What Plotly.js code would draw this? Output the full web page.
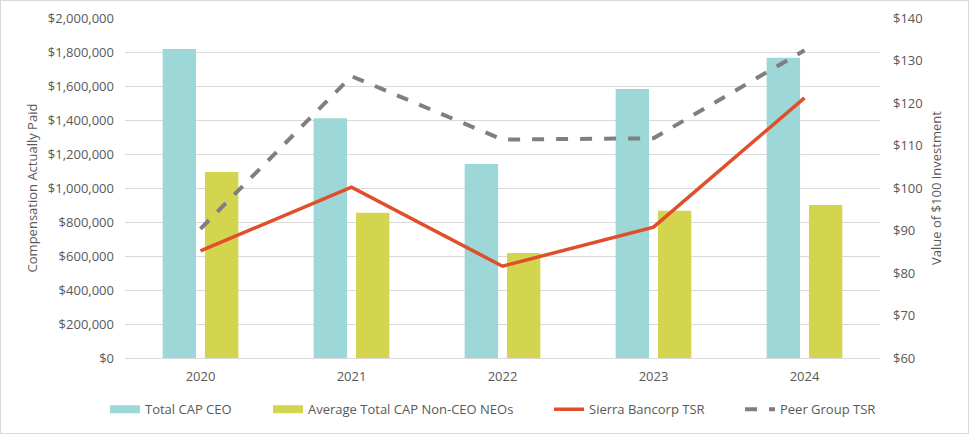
<!DOCTYPE html>
<html>
<head>
<meta charset="utf-8">
<script src="https://cdn.plot.ly/plotly-3.0.1.min.js"></script>
<style>
  html, body { margin: 0; padding: 0; background: #fff; }
  #chart { width: 967px; height: 432px; border: 1px solid #d9d9d9; }
</style>
</head>
<body>
<div id="chart"></div>
<script>
const years = ['2020', '2021', '2022', '2023', '2024'];
const capCEO = [1818000, 1410000, 1141000, 1583000, 1766000];
const capNEO = [1094000, 854000, 618000, 866000, 900000];
const sierraTSR = [85.2, 100.2, 81.6, 90.8, 121.2];
const peerTSR = [90.4, 126.3, 111.4, 111.7, 132.4];
const leftTicks = [0, 200000, 400000, 600000, 800000, 1000000, 1200000, 1400000, 1600000, 1800000, 2000000];
const leftTickText = ['$0', '$200,000', '$400,000', '$600,000', '$800,000', '$1,000,000', '$1,200,000', '$1,400,000', '$1,600,000', '$1,800,000', '$2,000,000'];
const rightTicks = [60, 70, 80, 90, 100, 110, 120, 130, 140];
const rightTickText = ['$60', '$70', '$80', '$90', '$100', '$110', '$120', '$130', '$140'];

const font = { family: 'Open Sans, Noto Sans, Liberation Sans, sans-serif', size: 13, color: '#595959' };
const colCEO = '#9dd7d7', colNEO = '#d4d54e';

const traces = [
  { type: 'bar', name: 'Total CAP CEO', x: years, y: capCEO, marker: { color: colCEO }, yaxis: 'y', showlegend: false },
  { type: 'bar', name: 'Average Total CAP Non-CEO NEOs', x: years, y: capNEO, marker: { color: colNEO }, yaxis: 'y', showlegend: false },
  { type: 'scatter', mode: 'lines', name: 'Total CAP CEO', x: [null], y: [null], line: { color: colCEO, width: 8 }, yaxis: 'y', hoverinfo: 'skip', legend: 'legend' },
  { type: 'scatter', mode: 'lines', name: 'Average Total CAP Non-CEO NEOs', x: [null], y: [null], line: { color: colNEO, width: 8 }, yaxis: 'y', hoverinfo: 'skip', legend: 'legend2' },
  { type: 'scatter', mode: 'lines', name: 'Sierra Bancorp TSR', x: years, y: sierraTSR, line: { color: '#e04e2a', width: 3.5 }, yaxis: 'y2', legend: 'legend3' },
  { type: 'scatter', mode: 'lines', name: 'Peer Group TSR', x: years, y: peerTSR, line: { color: '#7f7f7f', width: 4, dash: 'dash' }, yaxis: 'y2', legend: 'legend4' }
];

function leg(textStartPx) {
  return { orientation: 'h', x: (textStartPx - 42) / 967, xanchor: 'left', xref: 'container',
           y: 0.055, yanchor: 'middle', yref: 'container', font: font, bgcolor: 'rgba(0,0,0,0)' };
}

const layout = {
  width: 967, height: 432,
  margin: { l: 124, r: 88, t: 17, b: 75 },
  paper_bgcolor: '#fff', plot_bgcolor: '#fff',
  font: font,
  barmode: 'group',
  bargap: 0.44,
  bargroupgap: 0.21,
  showlegend: true,
  legend: leg(146),
  legend2: leg(309),
  legend3: leg(590),
  legend4: leg(781),
  xaxis: { type: 'category', showgrid: false, showline: true, linecolor: '#d9d9d9', linewidth: 1, ticks: '', tickfont: font, ticklabelstandoff: 6, automargin: false },
  yaxis: {
    range: [0, 2000000], tickvals: leftTicks, ticktext: leftTickText,
    showgrid: true, gridcolor: '#d9d9d9', gridwidth: 1, zeroline: false, showline: false,
    tickfont: font, ticklabelstandoff: 10, automargin: false,
    title: { text: 'Compensation Actually Paid', font: font, standoff: 7 }
  },
  yaxis2: {
    range: [60, 140], tickvals: rightTicks, ticktext: rightTickText,
    overlaying: 'y', side: 'right', showgrid: false, zeroline: false, showline: false,
    tickfont: font, ticklabelstandoff: 12, automargin: false,
    title: { text: 'Value of $100 Investment', font: font, standoff: 10 }
  }
};

Plotly.newPlot('chart', traces, layout, { displayModeBar: false, staticPlot: true });
</script>
</body>
</html>
